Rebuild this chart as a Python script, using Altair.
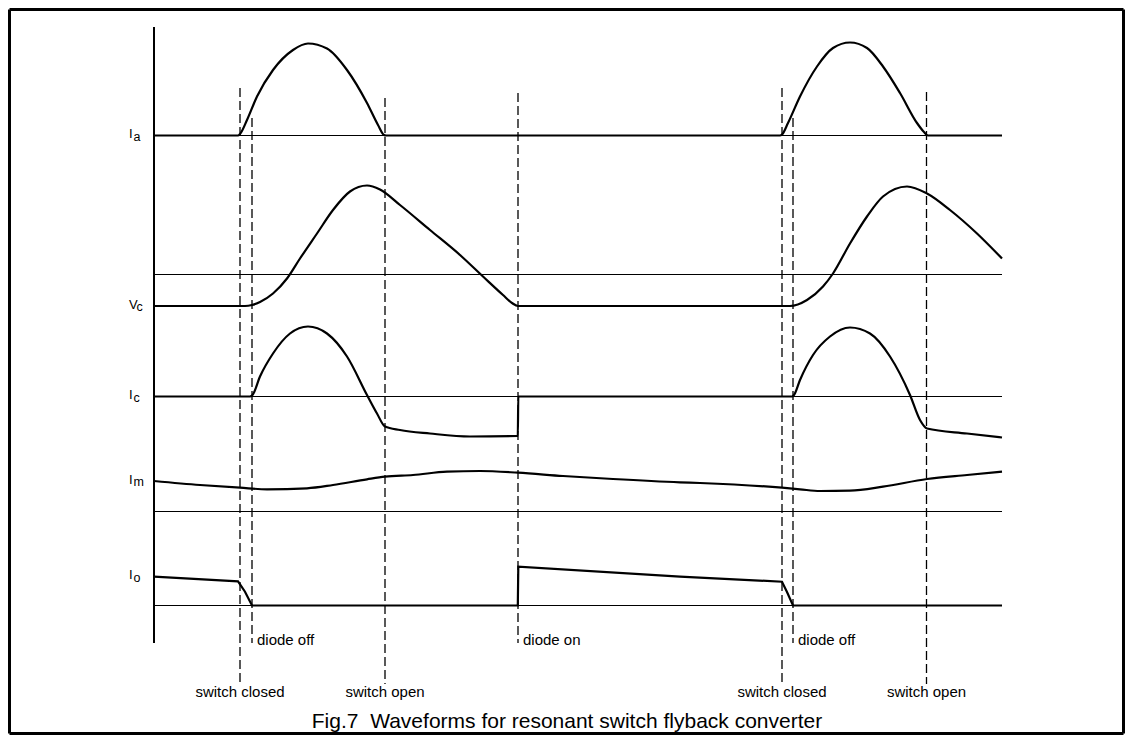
import altair as alt
import pandas as pd

# ---------------- data (time units, amplitude units) ----------------
# Ia : switch current pulses (amplitude above its zero line)
ia_t = [0, 84, 86, 93, 103, 119, 139, 154, 173, 193, 213, 224, 230, 232, 626, 628, 634, 646, 663, 679, 696, 713, 729, 746, 763, 770, 774, 848]
ia_v = [0, 0, 1.5, 15.5, 39, 65.5, 85.5, 92, 87, 65.5, 32.5, 10.5, 0.5, 0, 0, 1, 12.5, 39, 69, 87.5, 93, 87.5, 69, 42.5, 12.5, 3.5, 0, 0]

# Vc : capacitor voltage (amplitude above its resting level)
vc_t = [0, 91, 98, 106, 119, 133, 146, 163, 179, 196, 213, 226, 246, 276, 306, 329, 349, 358, 364, 636, 653, 669, 679, 696, 713, 729, 753, 773, 796, 823, 848]
vc_v = [0, 0, 1, 4, 12.5, 27.5, 47.5, 72.5, 96, 114.5, 120.5, 116.5, 101, 76, 51, 29.5, 11, 3, 0, 0, 6, 19.5, 32.5, 62.5, 89.5, 109.5, 119.5, 112.5, 96, 72.5, 47.5]

# Ic : capacitor current
ic_t = [0, 96, 98.5, 106, 119, 136, 154, 173, 193, 213, 223, 231, 246, 276, 316, 363.8, 364.3, 638, 640, 646, 659, 676, 696, 716, 736, 756, 766, 773, 813, 848]
ic_v = [0, 0, 1.5, 20, 43, 63, 70, 63, 40, 1.5, -17, -30, -33.5, -37, -40, -39.5, 0, 0, 1.5, 16.5, 41.5, 60, 69, 63, 40, 1.5, -23.5, -32, -37, -41]

# Im : magnetising current (amplitude above its zero line)
im_t = [0, 46, 86, 113, 153, 179, 213, 231, 259, 293, 326, 364, 409, 459, 526, 546, 628, 646, 666, 696, 729, 773, 813, 848]
im_v = [30.5, 26.5, 23.8, 22.2, 23.2, 26.5, 32.2, 34.8, 36.5, 39.8, 40.5, 38.8, 35.5, 32.5, 29.2, 28.5, 23.8, 22.2, 20.5, 20.8, 24.8, 32.5, 36.5, 39.8]

# Io : output diode current
io_t = [0, 84, 91, 98, 363.8, 364.3, 526, 628, 633, 639, 848]
io_v = [28.8, 24.2, 13.8, 0, 0, 38.8, 28.8, 23.8, 13.5, 0, 0]

# vertical placement of each trace (diagram units, up = larger)
signals = ["Ia", "Vc", "Ic", "Im", "Io"]
letters = ["I", "V", "I", "I", "I"]
subs = ["a", "c", "c", "m", "o"]
trace_level = [599.5, 429, 338.5, 223.5, 129.5]
zero_line = [599.5, 460.5, 338.5, 223.5, 129.5]

# switching events
event_t = [86, 98, 231, 364, 628, 639, 772.5]
event_top = [647, 617, 637, 642, 647, 617, 643]
event_bottom = [51, 92, 51, 92, 51, 92, 51]
event_label = ["switch closed", "diode off", "switch open", "diode on", "switch closed", "diode off", "switch open"]
event_kind = ["below", "side", "below", "side", "below", "side", "below"]

t_end = 848
axis_top, axis_bottom = 708, 92
caption = "Fig.7\u00a0 Waveforms for resonant switch flyback converter"

# ---------------- layout ----------------
W, H = 1117, 727
xs = alt.Scale(domain=[-146, W - 146], nice=False, zero=False)
ys = alt.Scale(domain=[727 - H, 727], nice=False, zero=False)

series = {"Ia": (ia_t, ia_v), "Vc": (vc_t, vc_v), "Ic": (ic_t, ic_v), "Im": (im_t, im_v), "Io": (io_t, io_v)}
rows = []
for s, lvl in zip(signals, trace_level):
    tt, vv = series[s]
    for t, v in zip(tt, vv):
        rows.append({"signal": s, "t": t, "Y": lvl + v})
wave = pd.DataFrame(rows)
smooth = wave[wave.signal != "Io"]
linear = wave[wave.signal == "Io"]

zeros = pd.DataFrame({"t": 0, "t2": t_end, "Y": zero_line})
axis_df = pd.DataFrame({"t": [0], "Y": [axis_top], "Y2": [axis_bottom]})
ev = pd.DataFrame({"t": event_t, "Y": event_top, "Y2": event_bottom, "label": event_label, "kind": event_kind})

first_vals = [series[s][1][0] + lvl for s, lvl in zip(signals, trace_level)]
lab = pd.DataFrame({"letter": letters, "sub": subs, "Y": [v - 2.5 for v in first_vals],
                    "Ysub": [v - 5 for v in first_vals],
                    "tsub": [-20.5 if l == "I" else -17.5 for l in letters]})

# frame around the figure (just inside the drawing edges)
m = 1.5
frame = pd.DataFrame({
    "t": [-146 + m, -146 + m, -146 + m, W - 146 - m],
    "t2": [W - 146 - m, W - 146 - m, -146 + m, W - 146 - m],
    "Y": [727 - m, m, m, m],
    "Y2": [727 - m, m, 727 - m, 727 - m],
})

X = lambda f="t": alt.X(f"{f}:Q", scale=xs, axis=None)
Yc = lambda f="Y": alt.Y(f"{f}:Q", scale=ys, axis=None)

frame_layer = alt.Chart(frame).mark_rule(color="black", strokeWidth=3).encode(
    x=X(), x2="t2:Q", y=Yc(), y2="Y2:Q")
zero_layer = alt.Chart(zeros).mark_rule(color="black", strokeWidth=1.1).encode(
    x=X(), x2="t2:Q", y=Yc())
axis_layer = alt.Chart(axis_df).mark_rule(color="black", strokeWidth=2).encode(
    x=X(), y=Yc(), y2="Y2:Q")
dash_layer = alt.Chart(ev).mark_rule(color="black", strokeWidth=1.3, strokeDash=[9, 4]).encode(
    x=X(), y=Yc(), y2="Y2:Q")
smooth_layer = alt.Chart(smooth).mark_line(color="black", strokeWidth=2.2, interpolate="monotone").encode(
    x=X(), y=Yc(), detail="signal:N")
io_layer = alt.Chart(linear).mark_line(color="black", strokeWidth=2.2).encode(
    x=X(), y=Yc(), detail="signal:N")

below_txt = alt.Chart(ev[ev.kind == "below"]).mark_text(
    font="Liberation Sans", fontSize=15, align="center", baseline="top", dy=1, color="black"
).encode(x=X(), y=Yc("Y2"), text="label:N")
side_txt = alt.Chart(ev[ev.kind == "side"]).mark_text(
    font="Liberation Sans", fontSize=15, align="left", baseline="middle", dx=5, dy=-3, color="black"
).encode(x=X(), y=Yc("Y2"), text="label:N")

main_lab = alt.Chart(lab).transform_calculate(tl="-25").mark_text(
    font="Liberation Sans", fontSize=13, align="left", baseline="alphabetic", color="black"
).encode(x=X("tl"), y=Yc(), text="letter:N")
sub_lab = alt.Chart(lab).mark_text(
    font="Liberation Sans", fontSize=12.5, align="left", baseline="alphabetic", color="black"
).encode(x=X("tsub"), y=Yc("Ysub"), text="sub:N")

cap_df = pd.DataFrame({"t": [413], "Y": [13], "text": [caption]})
cap_layer = alt.Chart(cap_df).mark_text(
    font="Liberation Sans", fontSize=21, align="center", baseline="middle", color="black"
).encode(x=X(), y=Yc(), text="text:N")

chart = alt.layer(
    frame_layer, zero_layer, axis_layer, dash_layer, smooth_layer, io_layer,
    below_txt, side_txt, main_lab, sub_lab, cap_layer
).properties(width=W, height=H, padding=0, autosize=alt.AutoSizeParams(type="none")
).configure_view(stroke=None)

chart.save("out.html", embed_options={"renderer": "svg", "actions": False})
